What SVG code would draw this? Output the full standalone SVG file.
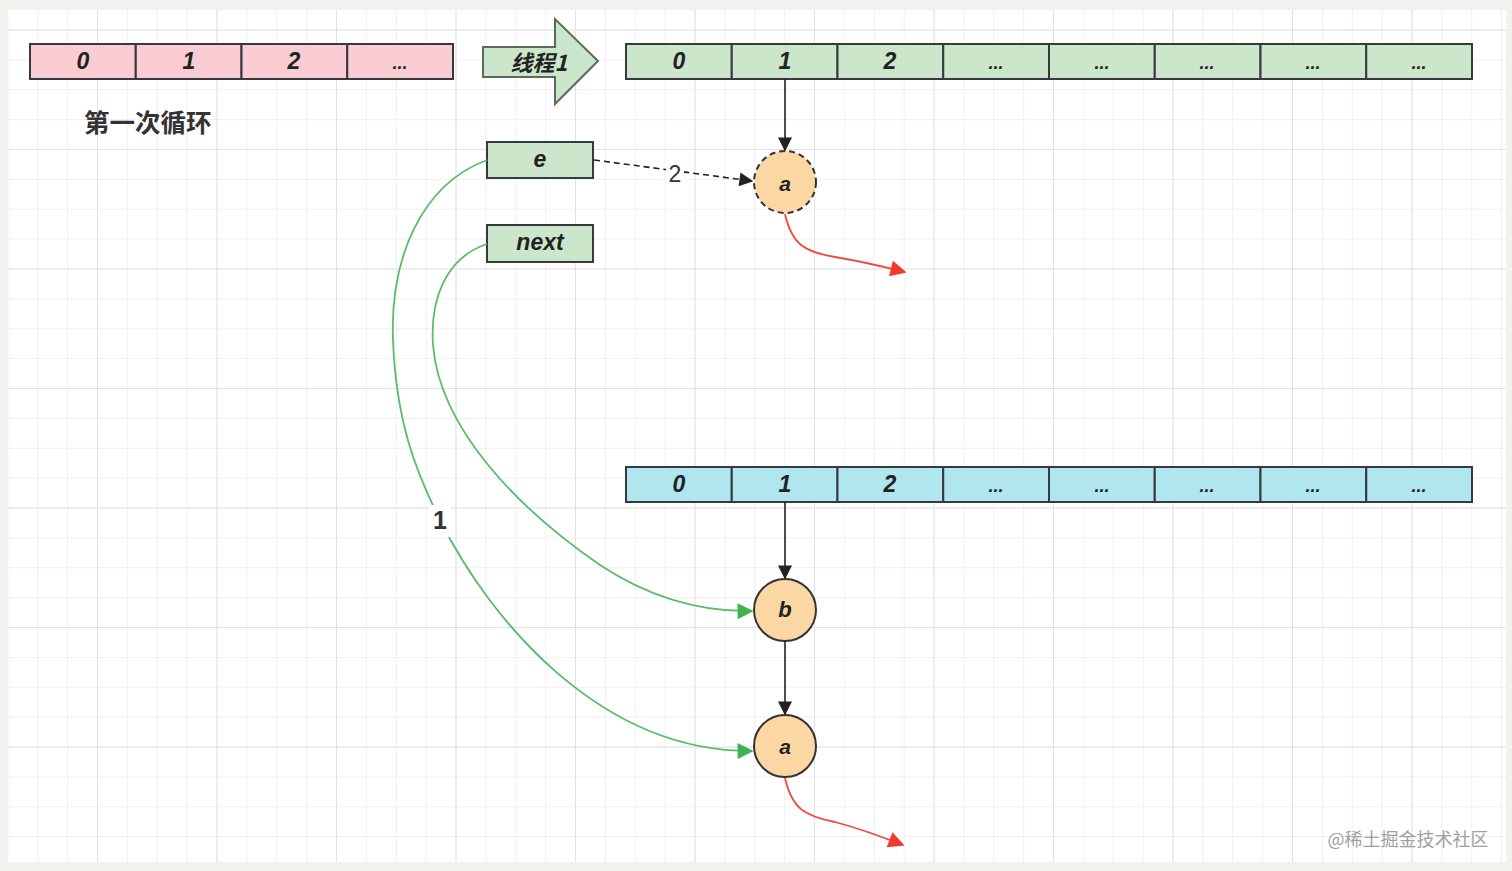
<svg xmlns="http://www.w3.org/2000/svg" width="1512" height="871" viewBox="0 0 1512 871">
<defs>
<pattern id="minor" x="7.4" y="29.5" width="29.875" height="29.875" patternUnits="userSpaceOnUse">
<path d="M0,0 H29.875 M0,0 V29.875" fill="none" stroke="#ececec" stroke-width="1.5"/>
</pattern>
<pattern id="major" x="-22.5" y="29.5" width="119.5" height="119.5" patternUnits="userSpaceOnUse">
<path d="M0,0 H119.5 M0,0 V119.5" fill="none" stroke="#e2e2e2" stroke-width="2"/>
</pattern>
<marker id="grn" viewBox="0 0 10 10" refX="9" refY="5" markerWidth="20" markerHeight="16" markerUnits="userSpaceOnUse" orient="auto"><path d="M0,0 L10,5 L0,10 Z" fill="#3fb34f"/></marker>
<marker id="red" viewBox="0 0 10 10" refX="9" refY="5" markerWidth="22" markerHeight="16" markerUnits="userSpaceOnUse" orient="auto"><path d="M0,0 L10,5 L0,10 Z" fill="#f03a2e"/></marker>
<marker id="blk2" viewBox="0 0 10 10" refX="9" refY="5" markerWidth="20" markerHeight="14" markerUnits="userSpaceOnUse" orient="auto"><path d="M0,0 L10,5 L0,10 Z" fill="#222"/></marker>
</defs>
<style>
.cell{stroke:#36393d;stroke-width:2}
.pink{fill:#f9cdd2}
.green{fill:#cce6cc}
.blue{fill:#b0e6ee}
.t{font-family:"Liberation Sans",Arial,sans-serif;font-style:italic;font-weight:bold;font-size:23px;fill:#222;text-anchor:middle;dominant-baseline:central}
.d{font-size:18px}
.circ{fill:#fad7a3;stroke:#333;stroke-width:2}
.edge{fill:none;stroke:#222;stroke-width:1.6}
.g{fill:none;stroke:#5cbb68;stroke-width:1.8}
.r{fill:none;stroke:#f04a3e;stroke-width:1.8}
.lbl{font-family:"Liberation Sans",Arial,sans-serif;fill:#333;text-anchor:middle;dominant-baseline:central}
</style>
<rect width="1512" height="871" fill="#f2f1ed"/>
<rect x="8" y="10" width="1498" height="852" fill="#ffffff"/>
<rect x="8" y="10" width="1498" height="852" fill="url(#minor)"/>
<rect x="8" y="10" width="1498" height="852" fill="url(#major)"/>

<g id="arr-pink">
<rect class="cell pink" x="30" y="44" width="105.75" height="35"/>
<rect class="cell pink" x="135.75" y="44" width="105.75" height="35"/>
<rect class="cell pink" x="241.5" y="44" width="105.75" height="35"/>
<rect class="cell pink" x="347.25" y="44" width="105.75" height="35"/>
<text class="t" x="83" y="61">0</text>
<text class="t" x="189" y="61">1</text>
<text class="t" x="294" y="61">2</text>
<text class="t d" x="400" y="63">...</text>
</g>

<g id="label-loop">
<text x="84" y="120" style="font-family:'Noto Sans CJK SC',sans-serif;font-weight:bold;font-size:25.5px;fill:#333;dominant-baseline:central">第一次循环</text>
</g>

<g id="thread-arrow">
<path d="M483,47 H555 V19 L598,61 L555,104 V77 H483 Z" fill="#cce6cc" stroke="#5a6b58" stroke-width="2"/>
<text class="t" x="539" y="61" style="font-family:'Noto Sans CJK SC',sans-serif;font-size:22px">线程1</text>
</g>

<g id="arr-green">
<rect class="cell green" x="626" y="44" width="105.75" height="35"/>
<rect class="cell green" x="731.75" y="44" width="105.75" height="35"/>
<rect class="cell green" x="837.5" y="44" width="105.75" height="35"/>
<rect class="cell green" x="943.25" y="44" width="105.75" height="35"/>
<rect class="cell green" x="1049" y="44" width="105.75" height="35"/>
<rect class="cell green" x="1154.75" y="44" width="105.75" height="35"/>
<rect class="cell green" x="1260.5" y="44" width="105.75" height="35"/>
<rect class="cell green" x="1366.25" y="44" width="105.75" height="35"/>
<text class="t" x="679" y="61">0</text>
<text class="t" x="785" y="61">1</text>
<text class="t" x="890" y="61">2</text>
<text class="t d" x="996" y="63">...</text>
<text class="t d" x="1102" y="63">...</text>
<text class="t d" x="1207" y="63">...</text>
<text class="t d" x="1313" y="63">...</text>
<text class="t d" x="1419" y="63">...</text>
</g>

<g id="arr-blue">
<rect class="cell blue" x="626" y="467" width="105.75" height="35"/>
<rect class="cell blue" x="731.75" y="467" width="105.75" height="35"/>
<rect class="cell blue" x="837.5" y="467" width="105.75" height="35"/>
<rect class="cell blue" x="943.25" y="467" width="105.75" height="35"/>
<rect class="cell blue" x="1049" y="467" width="105.75" height="35"/>
<rect class="cell blue" x="1154.75" y="467" width="105.75" height="35"/>
<rect class="cell blue" x="1260.5" y="467" width="105.75" height="35"/>
<rect class="cell blue" x="1366.25" y="467" width="105.75" height="35"/>
<text class="t" x="679" y="484">0</text>
<text class="t" x="785" y="484">1</text>
<text class="t" x="890" y="484">2</text>
<text class="t d" x="996" y="486">...</text>
<text class="t d" x="1102" y="486">...</text>
<text class="t d" x="1207" y="486">...</text>
<text class="t d" x="1313" y="486">...</text>
<text class="t d" x="1419" y="486">...</text>
</g>

<g id="box-e">
<rect class="cell green" x="487" y="142" width="106" height="36"/>
<text class="t" x="540" y="159">e</text>
</g>
<g id="box-next">
<rect class="cell green" x="487" y="225" width="106" height="37"/>
<text class="t" x="540" y="242">next</text>
</g>

<g id="node-a1">
<circle class="circ" cx="785" cy="182" r="31" stroke-dasharray="6 4"/>
<text class="t" x="785" y="183" style="font-size:21px">a</text>
</g>
<g id="node-b">
<circle class="circ" cx="785" cy="610" r="31"/>
<text class="t" x="785" y="609" style="font-size:22px">b</text>
</g>
<g id="node-a2">
<circle class="circ" cx="785" cy="746" r="31"/>
<text class="t" x="785" y="746" style="font-size:21px">a</text>
</g>

<g id="connectors">
<path class="edge" d="M785,79 V150" marker-end="url(#blk2)"/>
<path class="edge" d="M785,502 V578" marker-end="url(#blk2)"/>
<path class="edge" d="M785,641 V714" marker-end="url(#blk2)"/>
<path class="edge" d="M594,160 L752,181" stroke-dasharray="6 4" marker-end="url(#blk2)"/>
<rect x="666" y="162" width="18" height="24" fill="#ffffff"/>
<text class="lbl" x="675" y="174" style="font-size:23px">2</text>
<path class="g" d="M487,160 C420,185 390,260 393,340 C396,420 415,470 440,520 C490,620 600,752 752,751" marker-end="url(#grn)"/>
<rect x="429" y="505" width="22" height="32" fill="#ffffff"/>
<text class="lbl" x="440" y="520" style="font-size:25px;font-weight:bold">1</text>
<path class="g" d="M487,244 C445,258 430,300 433,345 C440,430 520,510 600,565 C650,598 700,612 752,611" marker-end="url(#grn)"/>
<path class="r" d="M785,214 C792,245 805,252 835,257 C865,262 885,267 905,272" marker-end="url(#red)"/>
<path class="r" d="M785,778 C792,809 805,816 835,822 C865,830 885,838 903,845" marker-end="url(#red)"/>
</g>

<g id="watermark">
<text x="1408" y="838" style="font-family:'Noto Sans CJK SC',sans-serif;font-size:18px;fill:#a0a0a0;text-anchor:middle;dominant-baseline:central">@稀土掘金技术社区</text>
</g>
</svg>
